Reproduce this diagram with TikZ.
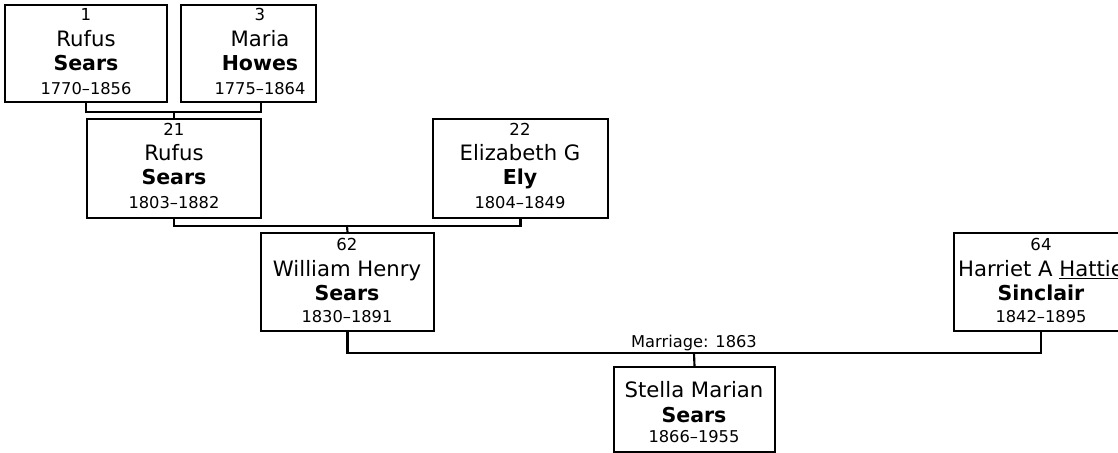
\documentclass[tikz,border=0pt]{standalone}
\usepackage{fontspec}
\setmainfont{DejaVu Sans}
\usetikzlibrary{fit}

\tikzset{
  person/.style={draw, line width=1.6pt, inner sep=0pt},
  link/.style={draw, line width=1.6pt},
  numtext/.style={anchor=base, inner sep=0.75pt, font=\fontsize{12.4}{14}\selectfont},
  nametext/.style={anchor=base, inner sep=0.75pt, font=\fontsize{15.9}{18}\selectfont},
  surtext/.style={anchor=base, inner sep=0.75pt, font=\fontsize{15.4}{18}\selectfont\bfseries},
  datetext/.style={anchor=base, inner sep=0.75pt, font=\fontsize{12.2}{14}\selectfont},
}

\begin{document}
\begin{tikzpicture}[x=0.75pt,y=0.75pt,yscale=-1,xscale=1]
		\path[use as bounding box, clip] (0,0) rectangle (1118,453);

		%Shape: Rectangle [id:p1]
		\node[person, fit={(5,5) (167,102)}] (p1) {};
		%Shape: Rectangle [id:p3]
		\node[person, fit={(181,5) (316,102)}] (p3) {};
		%Shape: Rectangle [id:p21]
		\node[person, fit={(87,119) (261,218)}] (p21) {};
		%Shape: Rectangle [id:p22]
		\node[person, fit={(433,119) (608,218)}] (p22) {};
		%Shape: Rectangle [id:p62]
		\node[person, fit={(261,233) (434,331)}] (p62) {};
		%Shape: Rectangle [id:p64]
		\node[person, fit={(954,233) (1128,331)}] (p64) {};
		%Shape: Rectangle [id:stella]
		\node[person, fit={(614,367) (775,452)}] (stella) {};

		%Connectors
		\coordinate (j3) at (261,102);
		\coordinate (jp21) at (174,112);
		\coordinate (jp62) at (347,226);
		\coordinate (jm) at (694,353);
		\draw[link] (p1.south) |- (jp21) -| (j3);
		\draw[link] (jp21) -- (p21.north);
		\draw[link] (p21.south) |- (jp62) -| (p22.south);
		\draw[link] (jp62) -- (p62.north);
		\draw[link] (p62.south) |- (jm) -| (p64.south);
		\draw[link] (jm) -- (stella.north);

		% Text Node
		\draw (86,21) node [numtext] {1};
		\draw (86,47) node [nametext] {Rufus};
		\draw (86,71) node [surtext] {Sears};
		\draw (86,94) node [datetext] {1770–1856};
		% Text Node
		\draw (260,21) node [numtext] {3};
		\draw (260,47) node [nametext] {Maria};
		\draw (260,71) node [surtext] {Howes};
		\draw (260,94) node [datetext] {1775–1864};
		% Text Node
		\draw (174,136) node [numtext] {21};
		\draw (174,161) node [nametext] {Rufus};
		\draw (174,185) node [surtext] {Sears};
		\draw (174,208) node [datetext] {1803–1882};
		% Text Node
		\draw (520,136) node [numtext] {22};
		\draw (520,161) node [nametext] {Elizabeth G};
		\draw (520,185) node [surtext] {Ely};
		\draw (520,208) node [datetext] {1804–1849};
		% Text Node
		\draw (347,250) node [numtext] {62};
		\draw (347,276) node [nametext] {William Henry};
		\draw (347,300) node [surtext] {Sears};
		\draw (347,322) node [datetext] {1830–1891};
		% Text Node
		\draw (1041,250) node [numtext] {64};
		\draw (1041,276) node [nametext] {Harriet A \underline{Hattie}};
		\draw (1041,300) node [surtext] {Sinclair};
		\draw (1041,322) node [datetext] {1842–1895};
		% Text Node
		\draw (694,347) node [datetext] {Marriage: 1863};
		% Text Node
		\draw (694,397) node [nametext] {Stella Marian};
		\draw (694,422) node [surtext] {Sears};
		\draw (694,442) node [datetext] {1866–1955};

\end{tikzpicture}
\end{document}
